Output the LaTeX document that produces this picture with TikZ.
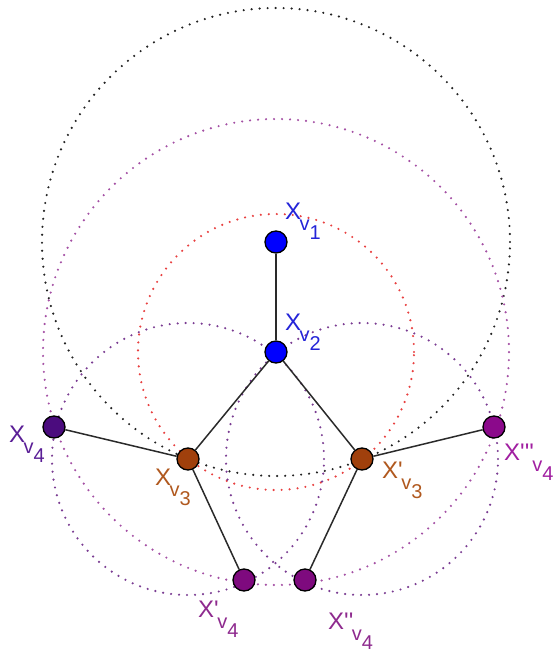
\documentclass[tikz,border=0pt]{standalone}
\usepackage{fontspec}
\newfontfamily\lblfont{Liberation Sans}
\usepackage{xcolor}
\definecolor{ptblue}{HTML}{0000FF}
\definecolor{ptbrown}{HTML}{A0400C}
\definecolor{ptindigo}{HTML}{4B0C7E}
\definecolor{ptpurple}{HTML}{7E0A7E}
\definecolor{txtblue}{HTML}{2424D8}
\definecolor{txtbrown}{HTML}{B0581E}
\definecolor{txtviolet}{HTML}{5A1E96}
\definecolor{txtpurple}{HTML}{8E2A8E}
\definecolor{txtmagenta}{HTML}{A11FA1}
\definecolor{ringblack}{HTML}{222222}
\definecolor{ringpink}{HTML}{A450A4}
\definecolor{ringred}{HTML}{E84040}
\definecolor{ringviolet}{HTML}{7A3C92}
\definecolor{edgegray}{HTML}{2A2A2A}
\usepackage{tikz}
\usetikzlibrary{backgrounds}

% X label with nested subscript v_k
\newcommand{\xlbl}[2]{{\fontsize{24}{24}\selectfont #1}\kern-1.5pt\raisebox{-11pt}{\fontsize{20}{20}\selectfont v\raisebox{-9pt}{#2}}}

\begin{document}
\begin{tikzpicture}[
    x=1pt, y=-1pt,
    font=\lblfont,
    pt/.style={circle, draw=black, line width=1.3pt, minimum size=22pt, inner sep=0pt},
    lbl/.style={anchor=base west, inner sep=0pt},
    ring/.style={line width=2.4pt, dash pattern=on 0pt off 8pt, line cap=round},
    edge/.style={draw=edgegray, line width=1.5pt},
]
\useasboundingbox (0,0) rectangle (556,652);

% ── Vertices ──
\node[pt, fill=ptblue] (v1) at (276, 242) {};
\node[pt, fill=ptblue] (v2) at (276, 352) {};
\node[pt, fill=ptbrown] (v3) at (188, 459) {};
\node[pt, fill=ptbrown] (v3p) at (362, 459) {};
\node[pt, fill=ptindigo] (v4) at (54, 427) {};
\node[pt, fill=ptpurple] (v4p) at (244, 580) {};
\node[pt, fill=ptpurple] (v4pp) at (305, 580) {};
\node[pt, fill=ptpurple!90!magenta] (v4ppp) at (494, 427) {};

% ── Labels ──
\node[lbl, text=txtblue] (l1) at (285, 219) {\xlbl{X}{1}};
\node[lbl, text=txtblue] (l2) at (285, 330) {\xlbl{X}{2}};
\node[lbl, text=txtbrown] (l3) at (155, 485) {\xlbl{X}{3}};
\node[lbl, text=txtbrown] (l3p) at (382, 478) {\xlbl{X'}{3}};
\node[lbl, text=txtviolet] (l4) at (9, 442) {\xlbl{X}{4}};
\node[lbl, text=txtpurple] (l4p) at (198, 617) {\xlbl{X'}{4}};
\node[lbl, text=txtpurple] (l4pp) at (328, 629) {\xlbl{X''}{4}};
\node[lbl, text=txtmagenta] (l4ppp) at (504, 460) {\xlbl{X'''}{4}};

% ── Dotted circles ──
\begin{scope}[on background layer]
\draw[ring, ringblack] (v1.center) circle (234pt);
\draw[ring, ringpink] (v2.center) circle (233pt);
\draw[ring, ringred] (v2.center) circle (138pt);
\draw[ring, ringviolet] (v3.center) circle (136pt);
\draw[ring, ringviolet] (v3p.center) circle (136pt);
\end{scope}

% ── Edges ──
\draw[edge] (v1) -- (v2);
\draw[edge] (v2) -- (v3);
\draw[edge] (v2) -- (v3p);
\draw[edge] (v3) -- (v4);
\draw[edge] (v3) -- (v4p);
\draw[edge] (v3p) -- (v4pp);
\draw[edge] (v3p) -- (v4ppp);
\end{tikzpicture}
\end{document}
